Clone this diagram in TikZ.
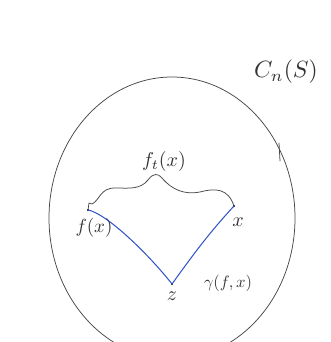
\documentclass[tikz,border=0pt]{standalone}
\begin{document}
\begin{tikzpicture}[x=1pt,y=-1pt,
  pen/.style={draw=black!72, line width=0.75pt, line cap=round, line join=round},
  bluepen/.style={draw={rgb,255:red,45;green,80;blue,200}, line width=1pt, line cap=round},
  lbl/.style={text=black!80, inner sep=1pt, font=\normalsize},
  pt/.style={circle, fill=black, inner sep=0pt, minimum size=2.4pt}]
\useasboundingbox (0,0) rectangle (330,342);
\fill[white] (0,0) rectangle (330,342);
\begin{scope}
\clip (0,0) rectangle (330,342);
\draw[pen] (172,218) ellipse [x radius=123, y radius=141];
\end{scope}
\coordinate (tk1) at (279,143);
\coordinate (tk2) at (280,161);
\draw[pen] (tk1) -- (tk2);
\node[pt] (fx) at (88,210) {};
\node[pt] (xx) at (234,206) {};
\node[pt] (zz) at (172,284) {};
\draw[pen] (fx.center) -- (89,203) -- (92,204)
  .. controls (100,200) and (100,188) .. (115,188)
  .. controls (128,188) and (140,190) .. (148,180)
  .. controls (153,173) and (158,173) .. (162,178)
  .. controls (172,190) and (185,195) .. (200,192)
  .. controls (215,188) and (228,188) .. (xx.center);
\draw[bluepen] (fx.center) .. controls (105,213) and (145,250) .. (zz.center);
\draw[bluepen] (zz.center) .. controls (195,252) and (210,232) .. (xx.center);
\node[lbl, scale=2.35] (cn) at (286,72) {$C_n(S)$};
\node[lbl, scale=2.0] (ft) at (164,161) {$f_t(x)$};
\node[lbl, scale=1.9] (flab) at (94,228) {$f(x)$};
\node[lbl, scale=2.0] (xlab) at (238,222) {$x$};
\node[lbl, scale=2.0] (zlab) at (172,296) {$z$};
\node[lbl, scale=1.65] (glab) at (228,283) {$\gamma(f,x)$};
\end{tikzpicture}
\end{document}
